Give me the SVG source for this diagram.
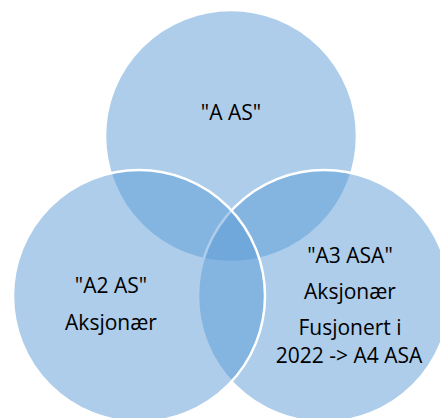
<svg xmlns="http://www.w3.org/2000/svg" width="440" height="418" viewBox="0 0 440 418">
<style>
.c{fill:#5B9BD5;fill-opacity:0.5;stroke:#fff;stroke-width:2.5}
.t{font-family:"Open Sans","Noto Sans",sans-serif;font-size:21px;fill:#000;text-anchor:middle}
</style>
<rect width="440" height="418" fill="#fff"/>
<g id="top"><circle class="c" cx="231" cy="136" r="126"/></g>
<g id="right"><circle class="c" cx="324" cy="296" r="126"/></g>
<g id="left"><circle class="c" cx="139" cy="296" r="126"/></g>
<g id="labels">
<text class="t" x="231" y="120">"A AS"</text>
<text class="t" x="111" y="293">"A2 AS"</text>
<text class="t" x="111" y="330">Aksjonær</text>
<text class="t" x="350" y="263">"A3 ASA"</text>
<text class="t" x="350" y="299">Aksjonær</text>
<text class="t" x="350" y="335">Fusjonert i</text>
<text class="t" x="349" y="363">2022 -&gt; A4 ASA</text>
</g>
</svg>
